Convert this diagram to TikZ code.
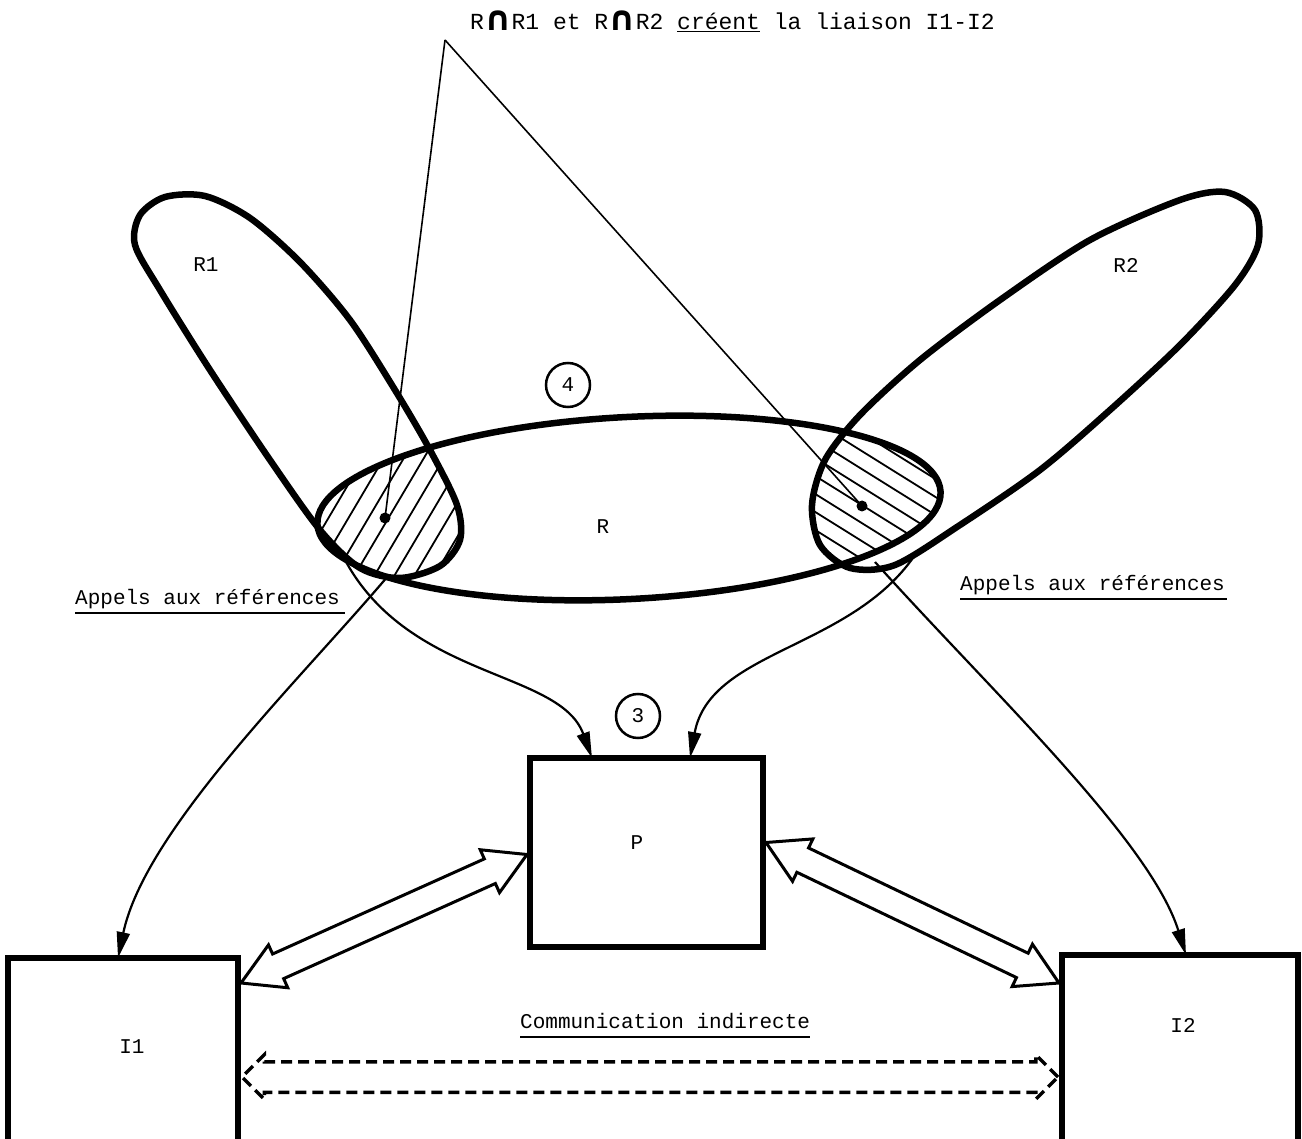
\documentclass[tikz,border=0pt]{standalone}
\usepackage{fontspec}
\setmainfont{Liberation Mono}
\newfontfamily\djv{DejaVu Sans}
\usetikzlibrary{calc,arrows.meta,shapes.arrows}
\newcommand\bigcapglyph{{\djv\bfseries\fontsize{34}{34}\selectfont\raisebox{-1pt}{∩}}}
\begin{document}
\begin{tikzpicture}[x=1pt,y=-1pt,
  every node/.style={font=\fontsize{21}{24}\selectfont, inner sep=0pt},
  setline/.style={line width=6.5pt, line join=round},
  box/.style={draw, line width=6.5pt, rectangle, outer sep=0pt},
  thinline/.style={line width=1.6pt},
  hatchline/.style={line width=1.8pt},
  refarrow/.style={line width=2.2pt, -{Triangle[length=26pt,width=13pt]}},
  hollow/.style={double arrow, draw, line width=3pt, double arrow tip angle=60,
     double arrow head extend=10pt, inner xsep=0pt, inner ysep=12pt, outer sep=0pt},
  dashedarrow/.style={double arrow, draw, line width=3.5pt, dash pattern=on 11pt off 6pt,
     double arrow tip angle=90, double arrow head extend=7pt, inner xsep=0pt,
     inner ysep=13.5pt, outer sep=0pt},
  circ/.style={circle, draw, line width=2.5pt, minimum size=44pt},
  dot/.style={circle, fill, minimum size=11pt},
]
\clip (0,0) rectangle (1302,1139);
\fill[white] (0,0) rectangle (1302,1139);

% hatched intersections
\begin{scope}
  \clip[rotate around={3:(629,508)}] (629,508) ellipse [x radius=312, y radius=91];
  \clip plot[smooth cycle] coordinates {(140,215) (165,197) (205,196) (250,218) (300,262) (350,320) (395,390) (430,450) (457,505) (460,540) (440,566) (400,578) (360,568) (320,530) (270,460) (210,370) (160,290) (135,245)};
  \foreach \i in {0,...,14} \draw[hatchline] (220+\i*20,600) -- ++(130,-220);
\end{scope}
\begin{scope}
  \clip[rotate around={3:(629,508)}] (629,508) ellipse [x radius=312, y radius=91];
  \clip plot[smooth cycle] coordinates {(1180,200) (1225,192) (1255,210) (1258,245) (1235,285) (1180,345) (1110,410) (1040,470) (960,525) (895,565) (850,568) (820,545) (812,505) (825,460) (860,415) (920,360) (1000,300) (1090,240)};
  \foreach \i in {0,...,15} \draw[hatchline] (780,310+\i*18) -- ++(250,156);
\end{scope}

% sets
\draw[setline] plot[smooth cycle] coordinates {(140,215) (165,197) (205,196) (250,218) (300,262) (350,320) (395,390) (430,450) (457,505) (460,540) (440,566) (400,578) (360,568) (320,530) (270,460) (210,370) (160,290) (135,245)};
\draw[setline] plot[smooth cycle] coordinates {(1180,200) (1225,192) (1255,210) (1258,245) (1235,285) (1180,345) (1110,410) (1040,470) (960,525) (895,565) (850,568) (820,545) (812,505) (825,460) (860,415) (920,360) (1000,300) (1090,240)};
\draw[setline, rotate around={3:(629,508)}] (629,508) ellipse [x radius=312, y radius=91];

\node (r1) at (206,265) {R1};
\node (r2) at (1126,265) {R2};
\node (r) at (603,527) {R};
\node[circ] (c4) at (568,385) {4};

% top annotation
\node[anchor=base west, font=\fontsize{23}{26}\selectfont] (top) at (470,30) {R\bigcapglyph R1 et R\bigcapglyph R2 \underline{créent} la liaison I1-I2};
\coordinate (apex) at (445,40);
\node[dot] (d1) at (385,518) {};
\node[dot] (d2) at (862,506) {};
\draw[thinline] (apex) -- (d1.center);
\draw[thinline] (apex) -- (d2.center);

% boxes
\node[box, minimum width=233pt, minimum height=189pt] (P) at (646.5,852.5) {};
\node (plab) at (637,843) {P};
\node[box, minimum width=230pt, minimum height=202pt] (I1) at (123,1059) {};
\node (i1lab) at (132,1047) {I1};
\node[box, minimum width=236pt, minimum height=205pt] (I2) at (1180,1057.5) {};
\node (i2lab) at (1183,1025) {I2};
\node[circ] (c3) at (638,716) {3};

% labels
\node[anchor=base west] (apl) at (75,604) {Appels aux références};
\draw[thinline] ($(apl.base west)+(0,9)$) -- ($(apl.base east)+(5,9)$);
\node[anchor=base west] (apr) at (960,590) {Appels aux références};
\draw[thinline] ($(apr.base west)+(0,9)$) -- ($(apr.base east)+(2,9)$);
\node[anchor=base west] (com) at (520,1028) {Communication indirecte};
\draw[thinline] ($(com.base west)+(0,9)$) -- ($(com.base east)+(0,9)$);

% reference arrows
\coordinate (s1) at (388,576);
\coordinate (s2) at (345,560);
\coordinate (s3) at (915,555);
\coordinate (s4) at (875,562);
\draw[refarrow] (s1) .. controls (300,680) and (145,830) .. ($(I1.north west)+(110,0)$);
\draw[refarrow] (s2) .. controls (410,680) and (560,670) .. ($(P.north west)+(62,0)$);
\draw[refarrow] (s3) .. controls (850,650) and (710,650) .. ($(P.north west)+(160,0)$);
\draw[refarrow] (s4) .. controls (990,690) and (1150,840) .. ($(I2.north west)+(124,0)$);

% hollow double arrows
\coordinate (hl1) at ($(I1.north east)+(3,25)$);
\coordinate (hl2) at ($(P.west)+(-3,2)$);
\path let \p1=($(hl2)-(hl1)$), \n1={atan2(\y1,\x1)}, \n2={veclen(\x1,\y1)} in
  node[hollow, minimum height=\n2, rotate=\n1] (hA) at ($(hl1)!.5!(hl2)$) {};
\coordinate (hr1) at ($(P.east)+(3,-10)$);
\coordinate (hr2) at ($(I2.north west)+(-3,28)$);
\path let \p1=($(hr2)-(hr1)$), \n1={atan2(\y1,\x1)}, \n2={veclen(\x1,\y1)} in
  node[hollow, minimum height=\n2, rotate=\n1] (hB) at ($(hr1)!.5!(hr2)$) {};

% dashed double arrow
\coordinate (dl1) at ($(I1.north east)+(4,119)$);
\coordinate (dl2) at ($(I2.north west)+(-4,122)$);
\path let \p1=($(dl2)-(dl1)$), \n2={veclen(\x1,\y1)} in
  node[dashedarrow, minimum height=\n2] (dA) at ($(dl1)!.5!(dl2)$) {};
\end{tikzpicture}
\end{document}
